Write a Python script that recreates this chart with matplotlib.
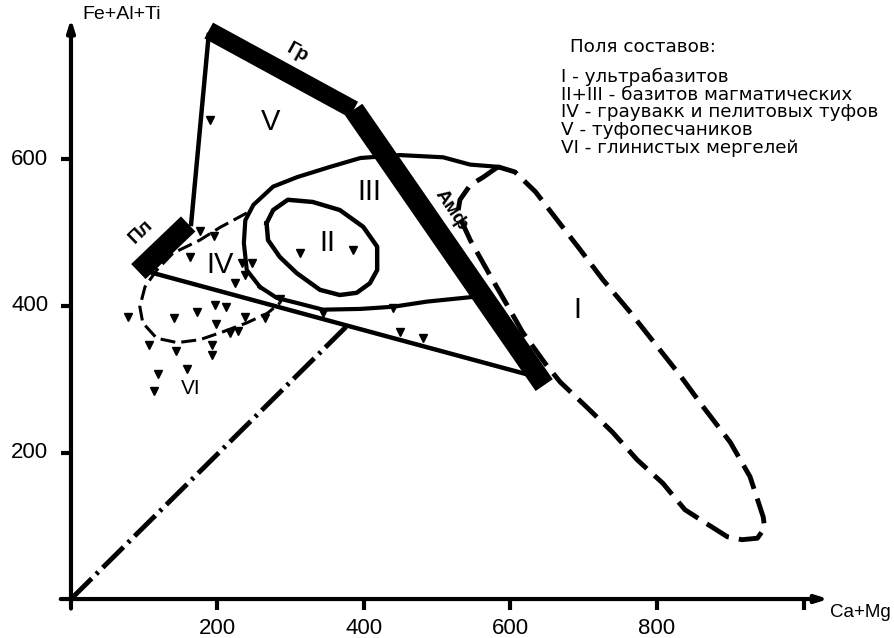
"""Fe+Al+Ti vs Ca+Mg composition diagram with rock-type fields."""

import matplotlib
matplotlib.use("Agg")
import matplotlib.pyplot as plt
import numpy as np

plt.rcParams["font.family"] = ["Liberation Sans", "DejaVu Sans"]

# sample points (Ca+Mg, Fe+Al+Ti)
pts_x = [176, 195, 162, 233, 247, 224, 238, 285, 78, 140, 172, 197, 212, 198, 238, 265,
         217, 228, 107, 143, 192, 192, 119, 158, 114, 313, 385, 190, 344, 440, 449, 480]
pts_y = [503, 495, 467, 459, 459, 431, 442, 410, 385, 383, 392, 401, 398, 375, 385, 383,
         363, 366, 347, 339, 347, 333, 307, 314, 284, 473, 477, 654, 390, 397, 365, 356]

# mineral trend bars: Гр (garnet), Амф (amphibole), Пл (plagioclase)
gr_x, gr_y = [188, 386], [776, 668]
amf_x, amf_y = [386, 646], [668, 292]
pl_x, pl_y = [92, 160], [447, 512]

# thin sides of the triangle
side1_x, side1_y = [188, 164], [770, 512]
side2_x, side2_y = [112, 640], [445, 302]

# dash-dot trend line from origin
trend_x, trend_y = [0, 376], [0, 372]

# field II (closed)
f2_x = [267, 276, 296, 330, 367, 399, 418, 418, 408, 390, 367, 340, 308, 285, 269, 267]
f2_y = [513, 531, 545, 542, 531, 508, 481, 449, 431, 418, 415, 422, 445, 467, 490, 513]

# field III outline (upper and lower edges)
f3_top_x = [258, 240, 236, 238, 249, 276, 309, 354, 395, 449, 508, 545, 583]
f3_top_y = [426, 449, 486, 517, 538, 563, 576, 590, 602, 606, 603, 593, 590]
f3_bot_x = [258, 281, 309, 344, 395, 440, 486, 545]
f3_bot_y = [426, 411, 404, 395, 396, 399, 406, 412]

# field IV+VI (dashed)
f4_x = [240, 203, 176, 139, 117, 101, 94, 98, 117, 145, 176, 208, 240, 268, 285]
f4_y = [527, 507, 490, 472, 449, 426, 399, 377, 356, 350, 354, 365, 377, 390, 404]

# field I (dashed, closed)
f1_x = [583, 563, 545, 531, 528, 545, 572, 599, 616, 647, 668, 704, 739, 773, 808, 838,
        866, 896, 916, 937, 947, 945, 927, 900, 861, 831, 793, 763, 726, 695, 664, 634,
        606, 583]
f1_y = [590, 576, 565, 545, 527, 490, 442, 395, 365, 322, 296, 262, 228, 190, 158, 122,
        104, 85, 81, 83, 97, 112, 167, 214, 265, 306, 354, 392, 436, 477, 517, 556,
        583, 590]

x_ticks = [200, 400, 600, 800, 1000]
x_labels = ["200", "400", "600", "800", ""]
y_ticks = [200, 400, 600]

legend_title = "Поля составов:"
legend_lines = [
    "I - ультрабазитов",
    "II+III - базитов магматических",
    "IV - граувакк и пелитовых туфов",
    "V - туфопесчаников",
    "VI - глинистых мергелей",
]

fig = plt.figure(figsize=(8.95, 6.38), dpi=100)
ax = fig.add_axes([0, 0, 1, 1])
ax.set_xlim(-96.9, 1124.9)
ax.set_ylim(-53.2, 817.7)
ax.axis("off")

k = "black"

# axes with arrows
ax.annotate("", xy=(1034, 0), xytext=(-14, 0),
            arrowprops=dict(arrowstyle="-|>,head_length=0.7,head_width=0.22",
                            lw=3, color=k, shrinkA=0, shrinkB=0))
ax.annotate("", xy=(0, 792), xytext=(0, -13),
            arrowprops=dict(arrowstyle="-|>,head_length=0.7,head_width=0.22",
                            lw=3, color=k, shrinkA=0, shrinkB=0))
for t, lab in zip(x_ticks, x_labels):
    ax.plot([t, t], [0, -15], color=k, lw=3, solid_capstyle="butt")
    ax.text(t, -40, lab, ha="center", va="center", fontsize=16)
for t in y_ticks:
    ax.plot([-14, 0], [t, t], color=k, lw=3, solid_capstyle="butt")
    ax.text(-31, t, str(t), ha="right", va="center", fontsize=16)
ax.text(16, 798, "Fe+Al+Ti", ha="left", va="center", fontsize=14)
ax.text(1036, -19, "Ca+Mg", ha="left", va="center", fontsize=13.5)

# fields
ax.plot(f2_x, f2_y, color=k, lw=3.2)
ax.plot(f3_top_x, f3_top_y, color=k, lw=3)
ax.plot(f3_bot_x, f3_bot_y, color=k, lw=3)
ax.plot(f4_x, f4_y, color=k, lw=2.2, linestyle=(0, (4.9, 2.0)))
ax.plot(f1_x, f1_y, color=k, lw=3.5, linestyle=(0, (5.3, 2.1)), solid_joinstyle="miter")

# triangle
ax.plot(side1_x, side1_y, color=k, lw=3.2)
ax.plot(side2_x, side2_y, color=k, lw=3.2)
ax.plot(trend_x, trend_y, color=k, lw=3.5, linestyle=(0, (6.0, 1.3, 0.6, 1.3)),
        dash_capstyle="butt")
ax.plot(gr_x, gr_y, color=k, lw=13, solid_capstyle="butt")
ax.plot(amf_x, amf_y, color=k, lw=15, solid_capstyle="butt")
ax.plot(pl_x, pl_y, color=k, lw=15, solid_capstyle="butt")

ax.plot(pts_x, pts_y, linestyle="none", marker="v", ms=5.5, color=k)

# field labels
for lab, x, y, fs in [("I", 691, 395, 21), ("II", 350, 486, 21), ("III", 408, 556, 21),
                      ("IV", 203, 456, 21), ("V", 273, 651, 21), ("VI", 163, 288, 15)]:
    ax.text(x, y, lab, ha="center", va="center", fontsize=fs)
ax.text(309, 745, "Гр", rotation=-29, ha="center", va="center", fontsize=14, fontweight="bold")
ax.text(96, 502, "Пл", rotation=44, ha="center", va="center", fontsize=14, fontweight="bold")
ax.text(519, 531, "Амф", rotation=-56, ha="center", va="center", fontsize=14, fontweight="bold")

# legend block, in a wider face
leg_font = dict(ha="left", va="center", fontsize=13.2, family=["DejaVu Sans"])
ax.text(681, 754, legend_title, **leg_font)
for i, line in enumerate(legend_lines):
    ax.text(669, 713 - 24.3 * i, line, **leg_font)

fig.savefig("out.png", dpi=100)
